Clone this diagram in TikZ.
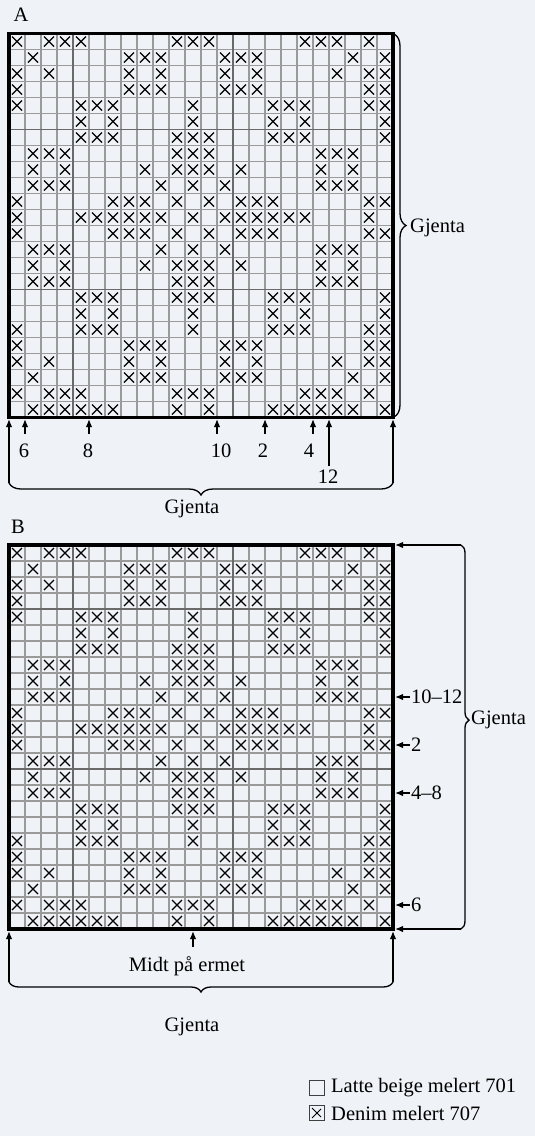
\documentclass[tikz,border=0pt]{standalone}
\usepackage{fontspec}
\setmainfont{Liberation Serif}
\usetikzlibrary{arrows.meta,decorations.pathreplacing}
\definecolor{bgc}{HTML}{EFF2F6}
\definecolor{gridc}{HTML}{9A9A9A}
\definecolor{gridd}{HTML}{6A6A6A}
\def\patt{1/{1,3,4,5,11,12,13,19,20,21,23},
2/{2,8,9,10,14,15,16,22,24},
3/{1,3,8,10,14,16,21,23,24},
4/{1,8,9,10,14,15,16,23,24},
5/{1,5,6,7,12,17,18,19,23,24},
6/{5,7,12,17,19,24},
7/{5,6,7,11,12,13,17,18,19,24},
8/{2,3,4,11,12,13,20,21,22},
9/{2,4,9,11,12,13,15,20,22},
10/{2,3,4,10,12,14,20,21,22},
11/{1,7,8,9,11,13,15,16,17,23,24},
12/{1,5,6,7,8,9,10,12,14,15,16,17,18,19,23},
13/{1,7,8,9,11,13,15,16,17,23,24},
14/{2,3,4,10,12,14,20,21,22},
15/{2,4,9,11,12,13,15,20,22},
16/{2,3,4,11,12,13,20,21,22},
17/{5,6,7,11,12,13,17,18,19,24},
18/{5,7,12,17,19,24},
19/{1,5,6,7,12,17,18,19,23,24},
20/{1,8,9,10,14,15,16,23,24},
21/{1,3,8,10,14,16,21,23,24},
22/{2,8,9,10,14,15,16,22,24},
23/{1,3,4,5,11,12,13,19,20,21,23},
24/{2,3,4,5,6,7,11,13,17,18,19,20,21,22,24}}
\newcommand\knitchart[3]{%
\begin{scope}[shift={(9,#1)}]
  \foreach \k in {1,...,23}{
    \draw[thingrid] (16*\k,0) -- (16*\k,384);
    \draw[thingrid] (0,16*\k) -- (384,16*\k);
  }
  \draw[thickgrid] (64,0) -- (64,384) (224,0) -- (224,384)
    (0,16*#2) -- (384,16*#2) (0,16*#3) -- (384,16*#3);
  \foreach \r/\cl in \patt {
    \foreach \c in \cl {
      \draw[xmark] (16*\c-13,16*\r-13) -- (16*\c-3,16*\r-3)
                   (16*\c-13,16*\r-3) -- (16*\c-3,16*\r-13);
    }
  }
  \draw[border] (0,0) rectangle (384,384);
\end{scope}}
\begin{document}
\begin{tikzpicture}[x=1pt,y=-1pt,
  lbl/.style={font=\fontsize{20.5}{24}\selectfont, inner sep=0pt},
  arr/.style={line width=1.4pt, -{Latex[length=8pt,width=6.5pt]}},
  brc/.style={line width=1.3pt, decorate, decoration={brace, amplitude=#1}},
  thingrid/.style={draw=gridc, line width=1.1pt},
  thickgrid/.style={draw=gridd, line width=1.9pt},
  xmark/.style={line width=1.1pt, black},
  border/.style={line width=3.4pt, black},
  legbox/.style={draw=black!75, line width=0.9pt, minimum size=15pt, inner sep=0pt}]
\fill[bgc] (0,0) rectangle (535,1136);
\useasboundingbox (0,0) rectangle (535,1136);

% ---------- Chart A ----------
\node[lbl] (labA) at (21,15) {A};
\knitchart{33.5}{6}{16}
% arrows under A
\coordinate (a0h) at (9,419);   \coordinate (a0t) at (9,483);
\coordinate (a24h) at (393,419); \coordinate (a24t) at (393,483);
\coordinate (a1h) at (25,419);  \coordinate (a1t) at (25,434);
\coordinate (a5h) at (89,419);  \coordinate (a5t) at (89,434);
\coordinate (a13h) at (217,419); \coordinate (a13t) at (217,434);
\coordinate (a16h) at (265,419); \coordinate (a16t) at (265,434);
\coordinate (a19h) at (313,419); \coordinate (a19t) at (313,434);
\coordinate (a20h) at (329,419); \coordinate (a20t) at (329,466);
\foreach \n in {0,24,1,5,13,16,19,20}{\draw[arr] (a\n t) -- (a\n h);}
\node[lbl] (n6) at (24,451) {6};
\node[lbl] (n8) at (88,451) {8};
\node[lbl] (n10) at (221,451) {10};
\node[lbl] (n2) at (263,451) {2};
\node[lbl] (n4) at (309,451) {4};
\node[lbl] (n12) at (328,477) {12};
\draw[brc=12] (a24t) -- (a0t);
\node[lbl] (gA1) at (192,509) {Gjenta};
% right brace A
\coordinate (bAt) at (394,34);
\coordinate (bAb) at (394,417);
\draw[brc=12] (bAt) -- (bAb);
\node[lbl, anchor=west] (gA2) at (410,228) {Gjenta};

% ---------- Chart B ----------
\node[lbl] (labB) at (18,527) {B};
\knitchart{545}{4}{14}
% right side arrows
\coordinate (rTt) at (461,545); \coordinate (rTh) at (395,545);
\coordinate (rBt) at (461,929); \coordinate (rBh) at (395,929);
\coordinate (r10t) at (410,697); \coordinate (r10h) at (395,697);
\coordinate (r2t) at (410,745);  \coordinate (r2h) at (395,745);
\coordinate (r4t) at (410,793);  \coordinate (r4h) at (395,793);
\coordinate (r6t) at (410,905);  \coordinate (r6h) at (395,905);
\foreach \n in {T,B,10,2,4,6}{\draw[arr] (r\n t) -- (r\n h);}
\node[lbl, anchor=west] (m1012) at (411,697) {10–12};
\node[lbl, anchor=west] (m2) at (411,745) {2};
\node[lbl, anchor=west] (m48) at (411,793) {4–8};
\node[lbl, anchor=west] (m6) at (411,905) {6};
\draw[line width=1.3pt, decorate, decoration={brace, amplitude=8, aspect=0.456}] (rTt) -- (rBt);
\node[lbl, anchor=west] (gB2) at (471,720) {Gjenta};
% bottom arrows B
\coordinate (b0h) at (9,931);   \coordinate (b0t) at (9,982);
\coordinate (b24h) at (393,931); \coordinate (b24t) at (393,982);
\coordinate (bmh) at (193,931); \coordinate (bmt) at (193,947);
\foreach \n in {0,24,m}{\draw[arr] (b\n t) -- (b\n h);}
\node[lbl] (midt) at (187,966) {Midt på ermet};
\draw[brc=10] (b24t) -- (b0t);
\node[lbl] (gB1) at (192,1027) {Gjenta};

% ---------- Legend ----------
\node[legbox] (box1) at (317,1088) {};
\node[legbox] (box2) at (317,1113) {};
\draw[line width=0.9pt] (box2.north west) ++(3,3) -- ++(9,9) (box2.south west) ++(3,-3) -- ++(9,-9);
\node[lbl, anchor=west] (leg1) at (331,1088) {Latte beige melert 701};
\node[lbl, anchor=west] (leg2) at (331,1113) {Denim melert 707};
\end{tikzpicture}
\end{document}
